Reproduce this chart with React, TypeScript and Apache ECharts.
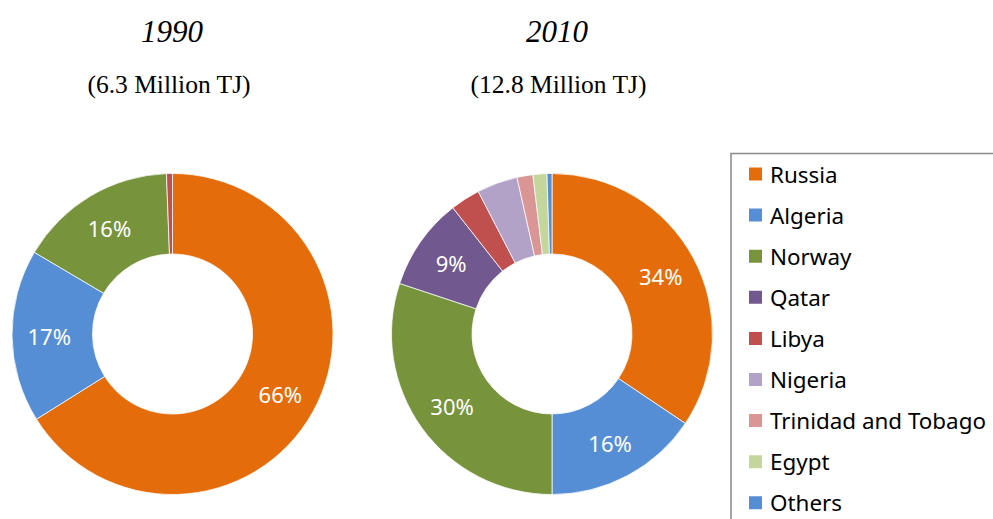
import React, { useEffect, useRef } from "react";
import * as echarts from "echarts";

const countries = ["Russia", "Algeria", "Norway", "Qatar", "Libya", "Nigeria", "Trinidad and Tobago", "Egypt", "Others"];
const colors = ["#E46C0A", "#558ED5", "#77933C", "#71588F", "#C0504D", "#B3A2C7", "#D99694", "#C3D69B", "#558ED5"];

const names1990 = ["Russia", "Algeria", "Norway", "Libya"];
const values1990 = [66.1, 17.4, 15.9, 0.6];

const names2010 = ["Russia", "Algeria", "Norway", "Qatar", "Libya", "Nigeria", "Trinidad and Tobago", "Egypt", "Others"];
const values2010 = [34.4, 15.6, 30.1, 9.3, 3.0, 4.1, 1.6, 1.4, 0.5];

const titles = ["1990", "2010"];
const subtitles = ["(6.3 Million TJ)", "(12.8 Million TJ)"];

const colorOf = (n: string) => colors[countries.indexOf(n)];

export default function App() {
  const ref = useRef<HTMLDivElement>(null);
  useEffect(() => {
    if (!ref.current) return;
    const chart = echarts.init(ref.current, null, { renderer: "svg" });
    const label = {
      show: true,
      position: "inside",
      color: "#fff",
      fontSize: 22,
      fontFamily: "Noto Sans",
      formatter: (p: any) => (p.value >= 5 ? Math.round(p.value) + "%" : ""),
    };
    const mk = (names: string[], values: number[], cx: number) => ({
      type: "pie",
      center: [cx, 334],
      radius: [80, 160.5],
      startAngle: 90,
      clockwise: true,
      avoidLabelOverlap: false,
      label,
      labelLine: { show: false },
      emphasis: { disabled: true },
      itemStyle: { borderColor: "#fff", borderWidth: 0.75 },
      data: names.map((n, i) => ({ name: n, value: values[i], itemStyle: { color: colorOf(n) } })),
    });
    chart.setOption({
      animation: false,
      legend: {
        orient: "vertical",
        left: 747,
        top: 163,
        height: 420,
        padding: 0,
        icon: "rect",
        itemWidth: 15,
        itemHeight: 15,
        itemGap: 19.1,
        data: countries,
        textStyle: { fontSize: 22.4, fontFamily: "Noto Sans", color: "#000", lineHeight: 22, padding: [0, 0, 0, 2] },
        selectedMode: false,
      },
      graphic: [
        {
          type: "rect",
          shape: { x: 731, y: 153.5, width: 400, height: 500 },
          style: { fill: "none", stroke: "#888", lineWidth: 1.5 },
          z: -1,
        },
        {
          type: "text",
          x: 172,
          y: 31,
          style: { text: titles[0], font: "italic 31px 'Liberation Serif'", fill: "#000", textAlign: "center", textVerticalAlign: "middle" },
        },
        {
          type: "text",
          x: 557,
          y: 31,
          style: { text: titles[1], font: "italic 31px 'Liberation Serif'", fill: "#000", textAlign: "center", textVerticalAlign: "middle" },
        },
        {
          type: "text",
          x: 169,
          y: 84,
          style: { text: subtitles[0], font: "25.5px 'Liberation Serif'", fill: "#000", textAlign: "center", textVerticalAlign: "middle" },
        },
        {
          type: "text",
          x: 558.5,
          y: 84,
          style: { text: subtitles[1], font: "25.5px 'Liberation Serif'", fill: "#000", textAlign: "center", textVerticalAlign: "middle" },
        },
      ],
      series: [mk(names1990, values1990, 172.5), mk(names2010, values2010, 552)],
    });
    return () => chart.dispose();
  }, []);
  return <div ref={ref} style={{ position: "fixed", left: 0, top: 0, width: 993, height: 519, background: "#fff" }} />;
}
